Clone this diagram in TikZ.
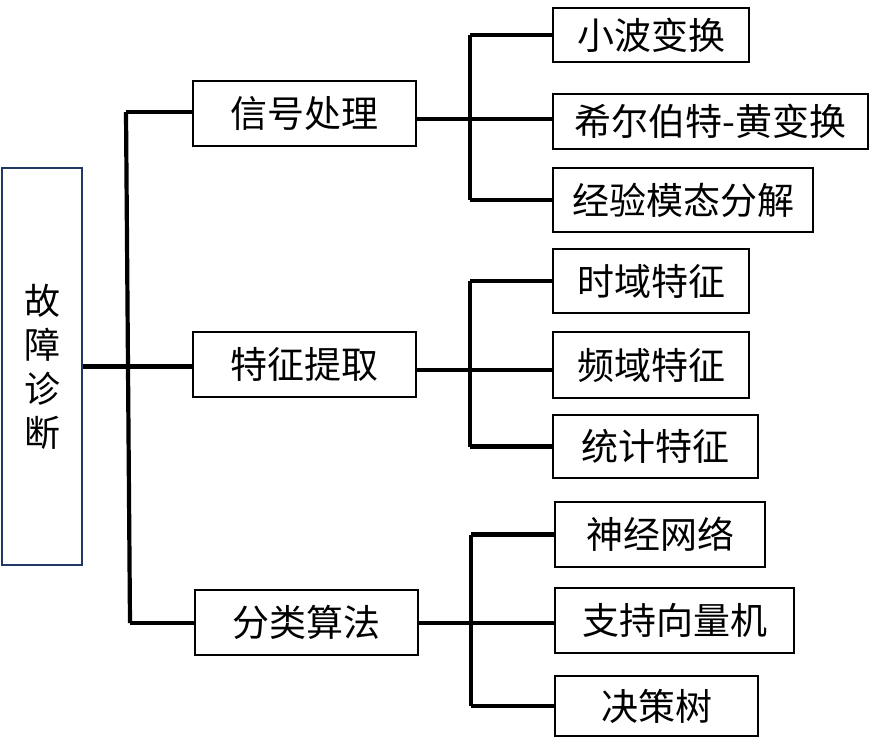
\documentclass[tikz,border=0pt]{standalone}
\usepackage{fontspec}
\setmainfont{Noto Sans CJK SC}
\usetikzlibrary{calc}
\definecolor{rootblue}{RGB}{31,56,100}
\tikzset{
  every picture/.style={line width=0.75pt},
  box/.style={draw,line width=1.8pt,inner sep=0pt,minimum height=65pt,font=\fontsize{37}{44}\selectfont},
  rootbox/.style={draw=rootblue,line width=1.8pt,inner sep=0pt,minimum width=80pt,minimum height=397pt,align=center,font=\fontsize{36}{44}\selectfont},
  conn/.style={line width=4.2pt}
}
\begin{document}
\begin{tikzpicture}[x=1pt,y=-1pt]
    \useasboundingbox (0,0) rectangle (876,753);

    % root
    \node[rootbox] (root) at (42,366.5) {故\\障\\诊\\断};

    % level 1
    \node[box,minimum width=223pt] (sig)  at (304.5,113.5) {信号处理};
    \node[box,minimum width=223pt] (feat) at (304.5,364.5) {特征提取};
    \node[box,minimum width=223pt] (cls)  at (306.5,622.5) {分类算法};

    % level 2
    \node[box,minimum width=196pt,minimum height=54pt] (wav) at (651,35)    {小波变换};
    \node[box,minimum width=315pt,minimum height=55pt] (hht) at (710.5,121.5) {希尔伯特-黄变换};
    \node[box,minimum width=260pt,minimum height=64pt] (emd) at (683,200)  {经验模态分解};
    \node[box,minimum width=196pt,minimum height=64pt] (tdf) at (651,281)  {时域特征};
    \node[box,minimum width=196pt,minimum height=66pt] (fdf) at (651,365)  {频域特征};
    \node[box,minimum width=205pt,minimum height=63pt] (stf) at (655.5,446.5) {统计特征};
    \node[box,minimum width=210pt,minimum height=65pt] (ann) at (660,534.5) {神经网络};
    \node[box,minimum width=239pt,minimum height=65pt] (svm) at (674.5,620.5) {支持向量机};
    \node[box,minimum width=203pt,minimum height=60pt] (dt)  at (656.5,706)  {决策树};

    % trunk
    \coordinate (t1) at (126,112);
    \coordinate (t3) at (130,623);
    \draw[conn] (t1) -- (t3);
    \draw[conn] (t1) -- (t1 -| sig.west);
    \draw[conn] (root.east) -- (root.east -| feat.west);
    \draw[conn] (t3) -- (t3 -| cls.west);

    % branches
    \coordinate (j1) at (470,119);
    \coordinate (j2) at (470,370);
    \coordinate (j3) at (471,623);
    \draw[conn] (sig.east |- j1) -- (hht.west |- j1);
    \draw[conn] (j1 |- wav) -- (j1 |- emd);
    \draw[conn] (j1 |- wav) -- (wav.west);
    \draw[conn] (j1 |- emd) -- (emd.west);

    \draw[conn] (feat.east |- j2) -- (fdf.west |- j2);
    \draw[conn] (j2 |- tdf) -- (j2 |- stf);
    \draw[conn] (j2 |- tdf) -- (tdf.west);
    \draw[conn] (j2 |- stf) -- (stf.west);

    \draw[conn] (cls.east |- j3) -- (svm.west |- j3);
    \draw[conn] (j3 |- ann) -- (j3 |- dt);
    \draw[conn] (j3 |- ann) -- (ann.west);
    \draw[conn] (j3 |- dt) -- (dt.west);
\end{tikzpicture}
\end{document}
